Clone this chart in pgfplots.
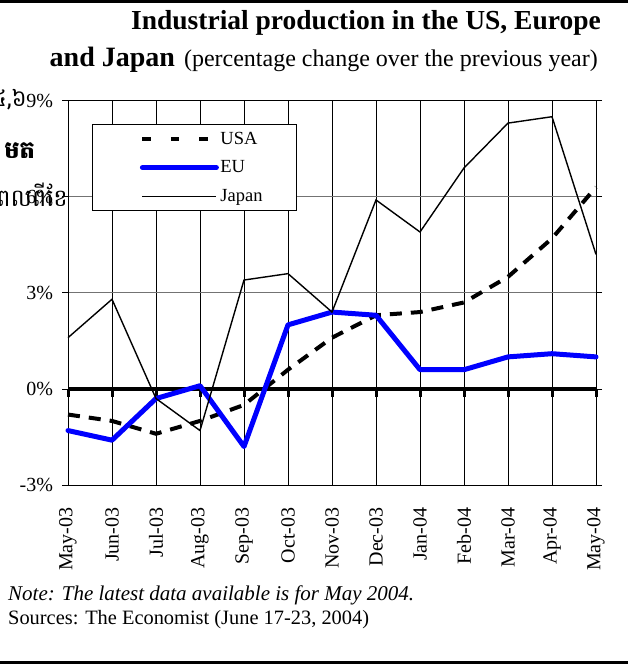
\documentclass[border=0pt]{standalone}
\usepackage{pgfplots}
\pgfplotsset{compat=1.18}
\usepackage{fontspec}
\setmainfont{Liberation Serif}
\newfontfamily\khmer[Script=Khmer]{Battambang}
\pgfplotsset{usalegend/.style={legend image code/.code={\path[draw=none,fill=none] (0pt,-1pt) rectangle (1pt,1pt); \draw[##1, dash pattern=on 8.5pt off 20pt] (50pt,0pt) -- (124pt,0pt);}}}
\begin{document}
\begin{tikzpicture}[x=1pt,y=1pt]
\begin{axis}[
  at={(68pt,179pt)}, anchor=south west,
  width=528pt, height=384.3pt, scale only axis,
  xmin=0, xmax=12, ymin=-3, ymax=9,
  clip=false,
  xtick={0,...,12},
  xticklabels={May-03,Jun-03,Jul-03,Aug-03,Sep-03,Oct-03,Nov-03,Dec-03,Jan-04,Feb-04,Mar-04,Apr-04,May-04},
  xticklabel style={rotate=90, anchor=east, font=\fontsize{20}{22}\selectfont},
  xticklabel shift=13pt,
  ytick={-3,0,3,6,9},
  yticklabels={-3\%,0\%,3\%,6\%,9\%},
  yticklabel style={font=\fontsize{20}{22}\selectfont, xshift=-5.5pt},
  tick align=outside,
  major tick length=6pt,
  xtick style={draw=none},
  ytick style={black, line width=0.8pt},
  xmajorgrids, ymajorgrids,
  x grid style={black, line width=0.8pt},
  y grid style={black!55, line width=0.9pt},
  axis line style={black, line width=0.8pt},
  legend style={at={(axis description cs:0.04545,0.939)}, anchor=north west,
    draw=black, line width=0.8pt, fill=white,
    font=\fontsize{18.5}{20}\selectfont, inner xsep=0pt, inner ysep=6pt, row sep=12pt,
    nodes={inner sep=1.5pt, text width=74pt, align=left}},
  legend cell align=left,
  legend image code/.code={\path[draw=none,fill=none] (0pt,-1pt) rectangle (1pt,1pt); \draw[#1] (50pt,0pt) -- (124pt,0pt);},
]
\addplot[black, line width=4.5pt, forget plot] coordinates {(0,0) (12,0)};
\addplot[ycomb, black, line width=3pt, forget plot, mark=none] coordinates {
(0,-0.26) (1,-0.26) (2,-0.26) (3,-0.26) (4,-0.26) (5,-0.26) (6,-0.26) (7,-0.26) (8,-0.26) (9,-0.26) (10,-0.26) (11,-0.26) (12,-0.26)};
\addplot[black, line width=4pt, dash pattern=on 12pt off 9pt, usalegend]
  coordinates {(0,-0.8) (1,-1.0) (2,-1.4) (3,-1.0) (4,-0.5) (5,0.6) (6,1.6) (7,2.3) (8,2.4) (9,2.7) (10,3.5) (11,4.7) (12,6.3)};
\addlegendentry{USA}
\addplot[blue, line width=5pt, line join=round, line cap=round]
  coordinates {(0,-1.3) (1,-1.6) (2,-0.3) (3,0.1) (4,-1.8) (5,2.0) (6,2.4) (7,2.3) (8,0.6) (9,0.6) (10,1.0) (11,1.1) (12,1.0)};
\addlegendentry{EU}
\addplot[black, line width=1.4pt]
  coordinates {(0,1.6) (1,2.8) (2,-0.3) (3,-1.3) (4,3.4) (5,3.6) (6,2.4) (7,5.9) (8,4.9) (9,6.9) (10,8.3) (11,8.5) (12,4.2)};
\addlegendentry{Japan}
\end{axis}
\node[anchor=base east, inner sep=0pt, font=\bfseries\fontsize{27.5}{30}\selectfont] at (601,634) {Industrial production in the US, Europe};
\node[anchor=base east, inner sep=0pt] at (598,597) {{\fontsize{28}{30}\selectfont\bfseries and Japan}\hspace{9pt}{\fontsize{24}{26}\selectfont(percentage change over the previous year)}};
\node[anchor=base west, inner sep=0pt, font=\itshape\fontsize{21}{24}\selectfont] at (8,63.5) {Note: The latest data available is for May 2004.};
\node[anchor=base west, inner sep=0pt, font=\fontsize{20.4}{24}\selectfont] at (8,39) {Sources: The Economist (June 17-23, 2004)};
\node[anchor=base east, inner sep=0pt, font=\khmer\fontsize{23}{25}\selectfont] at (27,557) {៤,៦};
\node[anchor=base east, inner sep=0pt, font=\khmer\bfseries\fontsize{24}{26}\selectfont] at (35,505) {មត};
\node[anchor=base east, inner sep=0pt, font=\khmer\fontsize{24}{26}\selectfont] at (68,457) {ពេលពីខែ};
\fill[black] (0,661) rectangle (628,664);
\fill[black] (0,0) rectangle (628,2.5);
\pgfresetboundingbox
\path[use as bounding box] (0,0) rectangle (628,664);
\end{tikzpicture}
\end{document}
